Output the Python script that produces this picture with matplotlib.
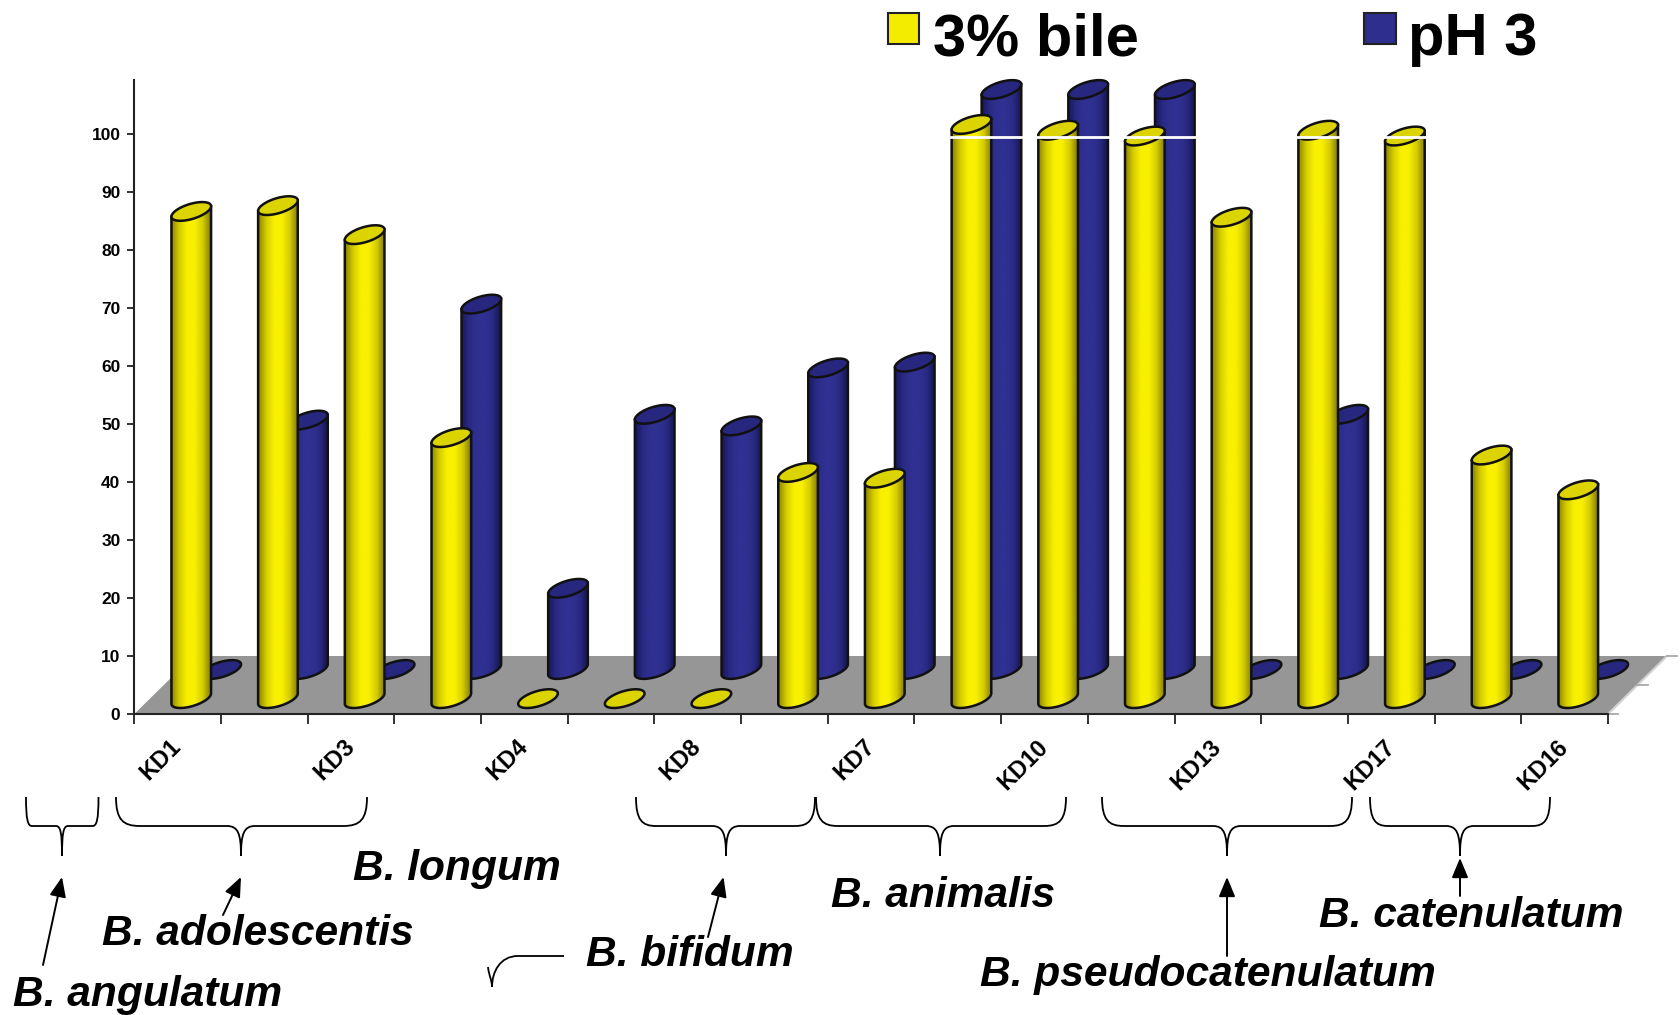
import numpy as np
import matplotlib
matplotlib.use('Agg')
import matplotlib.pyplot as plt
from matplotlib.colors import LinearSegmentedColormap
from matplotlib.path import Path
from matplotlib.patches import PathPatch, Polygon, Rectangle, FancyArrowPatch

plt.rcParams['font.family'] = ['Liberation Sans', 'DejaVu Sans']

# every second strain has no printed label in the original
strains = ['KD1', '', 'KD3', '', 'KD4', '', 'KD8', '', 'KD7', '',
           'KD10', '', 'KD13', '', 'KD17', '', 'KD16']
bile = [84, 85, 80, 45, 0, 0, 0, 39, 38, 99, 98, 97, 83, 98, 97, 42, 36]
ph3 = [0, 43, 0, 63, 14, 44, 42, 52, 53, 100, 100, 100, 0, 44, 0, 0, 0]
y_ticks = [0, 10, 20, 30, 40, 50, 60, 70, 80, 90, 100]
legend_names = ['3% bile', 'pH 3']

# species name, text x, text baseline y (picture pixels)
species = [('B. longum', 353, 880), ('B. adolescentis', 102, 945),
           ('B. angulatum', 13, 1006), ('B. bifidum', 586, 966),
           ('B. animalis', 831, 907), ('B. pseudocatenulatum', 980, 986),
           ('B. catenulatum', 1319, 927)]
# left end, right end, tip x, corner radius
braces = [(26, 98.5, 62, 6), (116, 367, 241, 24), (636, 815, 726, 20),
          (816, 1066, 940, 22), (1102, 1352, 1227, 22), (1370, 1550, 1460, 18)]
arrows = [(43, 965, 62, 877), (223, 915, 241, 877), (708, 937, 723.5, 877),
          (1227, 956, 1227, 877), (1460, 896, 1460, 858)]

W, H = 1681, 1015
X0, X1, Y0, YTOP = 134.3, 1608, 714, 80
PX_Y = 5.8
PX_X = (X1 - X0) / len(strains)

ELL_A, ELL_B, ELL_T = 20.6, 7.5, np.radians(17)
YELLOW_DX, YELLOW_DY = 0.657, 2.65
BLUE_DX, BLUE_DY = 1.003, 7.67
FLOOR_DX, FLOOR_DY = 59 / PX_X, 10

yellow_cmap = LinearSegmentedColormap.from_list(
    'y', ['#8c8400', '#d4cc00', '#f8f000', '#f8f000', '#d4cc00', '#847c00'])
blue_cmap = LinearSegmentedColormap.from_list(
    'b', ['#18185c', '#2a2a84', '#303092', '#303092', '#2a2a84', '#141450'])
grad = np.linspace(0, 1, 64).reshape(1, -1)


def ellipse_pts(u):
    # tilted ellipse offsets in data units
    ex = ELL_A * np.cos(u) * np.cos(ELL_T) - ELL_B * np.sin(u) * np.sin(ELL_T)
    ey = ELL_A * np.cos(u) * np.sin(ELL_T) + ELL_B * np.sin(u) * np.cos(ELL_T)
    return ex / PX_X, ey / PX_Y


def cylinder(ax, xc, base, value, cmap, top_color, z):
    u_r = np.arctan2(-ELL_B * np.sin(ELL_T), ELL_A * np.cos(ELL_T))
    ux, uy = ellipse_pts(np.linspace(0, 2 * np.pi, 80))
    top = base + value
    if value > 0:
        lx, ly = ellipse_pts(np.linspace(u_r, u_r - np.pi, 40))
        rx, ry = ellipse_pts(u_r)
        body = np.vstack([[xc + rx, top + ry],
                          np.column_stack([xc + lx, base + ly]),
                          [xc - rx, top - ry]])
        patch = Polygon(body, closed=True, fill=False, edgecolor='#111111',
                        lw=1.8, zorder=z + 0.2, clip_on=False)
        ax.add_patch(patch)
        im = ax.imshow(grad, cmap=cmap, aspect='auto', zorder=z, interpolation='bilinear',
                       extent=(xc - rx, xc + rx, base - 3, top + 3))
        im.set_clip_path(patch)
    ax.add_patch(Polygon(np.column_stack([xc + ux, top + uy]), closed=True, facecolor=top_color,
                         edgecolor='#111111', lw=1.8, zorder=z + 0.3, clip_on=False))


def draw_brace(ov, x0, x1, xt, r, ytop=797, ymid=826, ytip=856):
    rt = min(r, 14)
    for xe, s in ((x0, 1), (x1, -1)):
        verts = [(xe, ytop), (xe, ymid - 6), (xe + s * r * 0.3, ymid), (xe + s * r, ymid),
                 (xt - s * rt, ymid), (xt - s * rt, ymid),
                 (xt - s * rt * 0.2, ymid), (xt, ymid + 8), (xt, ytip)]
        codes = [Path.MOVETO, Path.CURVE4, Path.CURVE4, Path.CURVE4,
                 Path.LINETO, Path.LINETO, Path.CURVE4, Path.CURVE4, Path.CURVE4]
        ov.add_patch(PathPatch(Path(verts, codes), fill=False, edgecolor='black', lw=1.3))


fig = plt.figure(figsize=(W / 100, H / 100), dpi=100)
ax = fig.add_axes([X0 / W, 1 - Y0 / H, (X1 - X0) / W, (Y0 - YTOP) / H])

n = len(strains)
floor = [(0, 0), (n, 0), (n + FLOOR_DX, FLOOR_DY), (FLOOR_DX, FLOOR_DY)]
ax.add_patch(Polygon(floor, closed=True, facecolor='#969696', edgecolor='none',
                     zorder=1, clip_on=False))
ax.plot([n, n + FLOOR_DX], [0, FLOOR_DY], color='#d0d0d0', lw=1.5, zorder=1.5, clip_on=False)
for frac in (0, 0.5, 1):
    xs = n + FLOOR_DX * frac
    ax.plot([xs, xs + 0.12], [FLOOR_DY * frac, FLOOR_DY * frac], color='#a8a8a8', lw=1.3,
            zorder=1.5, clip_on=False)

for i, v in enumerate(ph3):
    cylinder(ax, i + BLUE_DX, BLUE_DY, v, blue_cmap, '#27277f', 3)
for i, v in enumerate(bile):
    cylinder(ax, i + YELLOW_DX, YELLOW_DY, v, yellow_cmap, '#dcd400', 5)

# white gridline shows only where it crosses the tall bars
ax.axhline(99.5, color='white', lw=2, zorder=7, xmin=0.554, xmax=0.877)

ax.set_xlim(0, n)
ax.set_ylim(0, (Y0 - YTOP) / PX_Y)
ax.set_yticks(y_ticks)
ax.set_yticklabels(y_ticks, fontsize=12.5, fontweight='bold')
ax.set_xticks(range(n + 1))
ax.set_xticklabels([])
ax.set_xticks(np.arange(n) + 0.5, minor=True)
ax.set_xticklabels(strains, minor=True, rotation=45, ha='right', va='center', rotation_mode='anchor',
                   fontsize=17, fontweight='bold')
ax.tick_params(axis='x', which='major', length=7, width=1.3, color='#222222')
ax.tick_params(axis='x', which='minor', length=0, pad=21)
ax.tick_params(axis='y', length=5, width=1.3, color='#222222', pad=5)
for name in ('top', 'right'):
    ax.spines[name].set_visible(False)
for name in ('left', 'bottom'):
    ax.spines[name].set_linewidth(1.5)
    ax.spines[name].set_color('#222222')
    ax.spines[name].set_zorder(2)
ax.patch.set_alpha(0)

# overlay in picture pixels for the legend and the hand-drawn notes
ov = fig.add_axes([0, 0, 1, 1])
ov.set_xlim(0, W)
ov.set_ylim(H, 0)
ov.axis('off')
ov.patch.set_alpha(0)

ov.add_patch(Rectangle((888, 13), 31, 31, facecolor='#f4ec00', edgecolor='#222222', lw=1.5))
ov.add_patch(Rectangle((1364, 13), 32, 31, facecolor='#2e2e8e', edgecolor='#222222', lw=1.5))
ov.text(933, 55, legend_names[0], fontsize=43, fontweight='bold', va='baseline')
ov.text(1408, 55, legend_names[1], fontsize=43, fontweight='bold', va='baseline')

for x0, x1, xt, r in braces:
    draw_brace(ov, x0, x1, xt, r)

# stray piece of a brace left beside B. bifidum
stray = Path([(564, 956), (518, 956), (500, 956), (492, 972), (492, 987)],
             [Path.MOVETO, Path.LINETO, Path.CURVE4, Path.CURVE4, Path.CURVE4])
ov.add_patch(PathPatch(stray, fill=False, edgecolor='black', lw=1.3))
stray2 = Path([(488, 967), (489, 976), (492, 980), (492, 987)],
              [Path.MOVETO, Path.CURVE4, Path.CURVE4, Path.CURVE4])
ov.add_patch(PathPatch(stray2, fill=False, edgecolor='black', lw=1.3))

for xa, ya, xb, yb in arrows:
    ov.add_patch(FancyArrowPatch((xa, ya), (xb, yb), arrowstyle='-|>,head_length=0.6,head_width=0.25',
                                 mutation_scale=20, color='black', lw=1.4, shrinkA=0, shrinkB=0))

for name, tx, ty in species:
    ov.text(tx, ty, name, fontsize=30.6, fontweight='bold', fontstyle='italic', va='baseline')

fig.savefig('out.png', dpi=100)
